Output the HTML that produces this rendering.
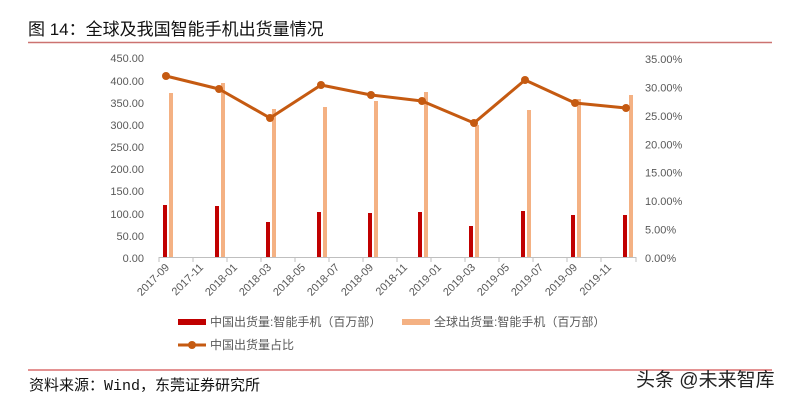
<!DOCTYPE html>
<html><head><meta charset="utf-8"><style>
html,body{margin:0;padding:0;background:#fff;}
svg{display:block;}
text{font-family:"Liberation Sans","Noto Sans CJK SC",sans-serif;}
</style></head><body>
<svg width="794" height="401" viewBox="0 0 794 401" xmlns="http://www.w3.org/2000/svg">
<text x="28" y="35" font-size="17" fill="#111">图 14：全球及我国智能手机出货量情况</text>
<line x1="28" y1="42.5" x2="772" y2="42.5" stroke="#c0504d" stroke-width="1.5" opacity="0.8"/>
<g font-size="11" fill="#595959" text-anchor="end">
<text x="144" y="262">0.00</text><text x="144" y="240">50.00</text><text x="144" y="218">100.00</text><text x="144" y="195">150.00</text><text x="144" y="173">200.00</text><text x="144" y="151">250.00</text><text x="144" y="129">300.00</text><text x="144" y="107">350.00</text><text x="144" y="85">400.00</text><text x="144" y="62">450.00</text>
</g>
<g font-size="11" fill="#595959">
<text x="645" y="262">0.00%</text><text x="645" y="233.6">5.00%</text><text x="645" y="205.1">10.00%</text><text x="645" y="176.7">15.00%</text><text x="645" y="148.3">20.00%</text><text x="645" y="119.9">25.00%</text><text x="645" y="91.4">30.00%</text><text x="645" y="63">35.00%</text>
</g>
<line x1="159" y1="257.5" x2="636" y2="257.5" stroke="#bfbfbf"/>
<g stroke="#bfbfbf">
<line x1="159" y1="257" x2="159" y2="262"/><line x1="193" y1="257" x2="193" y2="262"/><line x1="227" y1="257" x2="227" y2="262"/><line x1="261" y1="257" x2="261" y2="262"/><line x1="295" y1="257" x2="295" y2="262"/><line x1="329" y1="257" x2="329" y2="262"/><line x1="363" y1="257" x2="363" y2="262"/><line x1="397" y1="257" x2="397" y2="262"/><line x1="431" y1="257" x2="431" y2="262"/><line x1="465" y1="257" x2="465" y2="262"/><line x1="499" y1="257" x2="499" y2="262"/><line x1="533" y1="257" x2="533" y2="262"/><line x1="567" y1="257" x2="567" y2="262"/><line x1="601" y1="257" x2="601" y2="262"/><line x1="636" y1="257" x2="636" y2="262"/>
</g>
<g fill="#f4b183">
<rect x="169" y="93" width="4" height="164"/><rect x="221" y="83" width="4" height="174"/><rect x="272" y="109" width="4" height="148"/><rect x="323" y="107" width="4" height="150"/><rect x="374" y="101" width="4" height="156"/><rect x="424" y="92" width="4" height="165"/><rect x="475" y="125" width="4" height="132"/><rect x="527" y="110" width="4" height="147"/><rect x="577" y="99" width="4" height="158"/><rect x="629" y="95" width="4" height="162"/>
</g>
<g fill="#c00000">
<rect x="163" y="205" width="4" height="52"/><rect x="215" y="206" width="4" height="51"/><rect x="266" y="222" width="4" height="35"/><rect x="317" y="212" width="4" height="45"/><rect x="368" y="213" width="4" height="44"/><rect x="418" y="212" width="4" height="45"/><rect x="469" y="226" width="4" height="31"/><rect x="521" y="211" width="4" height="46"/><rect x="571" y="215" width="4" height="42"/><rect x="623" y="215" width="4" height="42"/>
</g>
<polyline fill="none" stroke="#c55a11" stroke-width="3" stroke-linejoin="round" points="166,76 219,89 270,118 321,85 371,95 422,101 474,123 525,80 575,103 626,108"/>
<g fill="#c55a11">
<circle cx="166" cy="76" r="4"/><circle cx="219" cy="89" r="4"/><circle cx="270" cy="118" r="4"/><circle cx="321" cy="85" r="4"/><circle cx="371" cy="95" r="4"/><circle cx="422" cy="101" r="4"/><circle cx="474" cy="123" r="4"/><circle cx="525" cy="80" r="4"/><circle cx="575" cy="103" r="4"/><circle cx="626" cy="108" r="4"/>
</g>
<g font-size="11" fill="#595959" text-anchor="end">
<text transform="translate(170,268) rotate(-45)">2017-09</text><text transform="translate(204,268) rotate(-45)">2017-11</text><text transform="translate(238,268) rotate(-45)">2018-01</text><text transform="translate(272,268) rotate(-45)">2018-03</text><text transform="translate(306,268) rotate(-45)">2018-05</text><text transform="translate(340,268) rotate(-45)">2018-07</text><text transform="translate(374,268) rotate(-45)">2018-09</text><text transform="translate(408,268) rotate(-45)">2018-11</text><text transform="translate(442,268) rotate(-45)">2019-01</text><text transform="translate(476,268) rotate(-45)">2019-03</text><text transform="translate(510,268) rotate(-45)">2019-05</text><text transform="translate(544,268) rotate(-45)">2019-07</text><text transform="translate(578,268) rotate(-45)">2019-09</text><text transform="translate(612,268) rotate(-45)">2019-11</text>
</g>
<rect x="178" y="319" width="28" height="6" fill="#c00000"/>
<text x="210" y="326" font-size="12" fill="#595959">中国出货量:智能手机（百万部）</text>
<rect x="402" y="319" width="28" height="6" fill="#f4b183"/>
<text x="434" y="326" font-size="12" fill="#595959">全球出货量:智能手机（百万部）</text>
<line x1="178" y1="345" x2="206" y2="345" stroke="#c55a11" stroke-width="3"/>
<circle cx="192" cy="345" r="4" fill="#c55a11"/>
<text x="210" y="349" font-size="12" fill="#595959">中国出货量占比</text>
<line x1="28" y1="370" x2="772" y2="370" stroke="#c00000" stroke-width="1" opacity="0.85"/>
<text x="29" y="390" font-size="15" fill="#111" style="font-family:'Liberation Mono','Noto Sans CJK SC',monospace">资料来源：Wind，东莞证券研究所</text>
<text x="636" y="386" font-size="19" fill="#222">头条 @未来智库</text>
</svg>
</body></html>
